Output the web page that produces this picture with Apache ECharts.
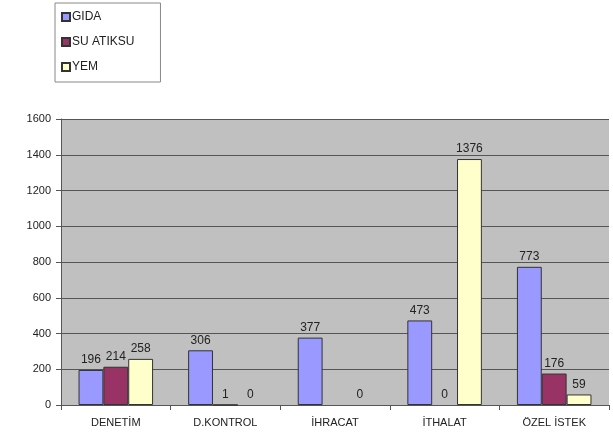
<!DOCTYPE html>
<html>
<head>
<meta charset="utf-8">
<script src="https://cdn.jsdelivr.net/npm/echarts@6/dist/echarts.min.js"></script>
<style>
    html, body {margin: 0; padding: 0; background: #fff;}
    #chart {width: 613px; height: 444px;}
</style>
</head>
<body>
<div id="chart"></div>
<script>
const categories = ['DENETİM', 'D.KONTROL', 'İHRACAT', 'İTHALAT', 'ÖZEL İSTEK'];
const seriesNames = ['GIDA', 'SU ATIKSU', 'YEM'];
const gida = [196, 306, 377, 473, 773];
const suAtiksu = [214, 1, null, 0, 176];
const yem = [258, 0, 0, 1376, 59];
const yTicks = [0, 200, 400, 600, 800, 1000, 1200, 1400, 1600];

const colors = ['#9999ff', '#993366', '#ffffcc'];

function barSeries(name, data, color) {
    return {
        name: name,
        type: 'bar',
        // zero-height bars: no visible outline, like the original
        data: data.map(function (v) {
            return v === 0 ? {value: 0, itemStyle: {borderWidth: 0}} : v;
        }),
        barGap: '0%',
        barCategoryGap: '32%',
        itemStyle: {
            color: color,
            borderColor: '#333',
            borderWidth: 1
        },
        label: {
            show: true,
            position: 'top',
            distance: 4,
            color: '#222',
            fontFamily: 'Liberation Sans',
            fontSize: 12
        }
    };
}

const myChart = echarts.init(document.getElementById('chart'));
const option = {
    animation: false,
    legend: {
        orient: 'vertical',
        left: 55,
        top: 3,
        data: seriesNames,
        icon: 'rect',
        itemWidth: 8,
        itemHeight: 8,
        itemGap: 11,
        padding: [7, 26, 8, 6],
        backgroundColor: '#fff',
        borderColor: '#888',
        borderWidth: 1,
        textStyle: {
            color: '#222',
            fontFamily: 'Liberation Sans',
            fontSize: 12,
            lineHeight: 14,
            padding: [0, 0, 0, -3]
        }
    },
    grid: {
        left: 61,
        right: 4,
        top: 119,
        bottom: 39,
        show: true,
        backgroundColor: '#c0c0c0',
        borderWidth: 0
    },
    xAxis: {
        type: 'category',
        data: categories,
        axisLine: {lineStyle: {color: '#555', width: 1}},
        axisTick: {show: true, alignWithLabel: false, length: 5, lineStyle: {color: '#555'}},
        axisLabel: {
            color: '#222',
            fontFamily: 'Liberation Sans',
            fontSize: 11,
            margin: 12
        }
    },
    yAxis: {
        type: 'value',
        min: yTicks[0],
        max: yTicks[yTicks.length - 1],
        interval: 200,
        axisLine: {show: true, lineStyle: {color: '#555', width: 1}},
        axisTick: {show: true, length: 5, lineStyle: {color: '#555'}},
        axisLabel: {
            color: '#222',
            fontFamily: 'Liberation Sans',
            fontSize: 11,
            margin: 10,
            formatter: function (v) { return String(v); }
        },
        splitLine: {show: true, lineStyle: {color: '#555', width: 1}}
    },
    series: [
        barSeries(seriesNames[0], gida, colors[0]),
        barSeries(seriesNames[1], suAtiksu, colors[1]),
        barSeries(seriesNames[2], yem, colors[2])
    ]
};
myChart.setOption(option);
</script>
</body>
</html>
